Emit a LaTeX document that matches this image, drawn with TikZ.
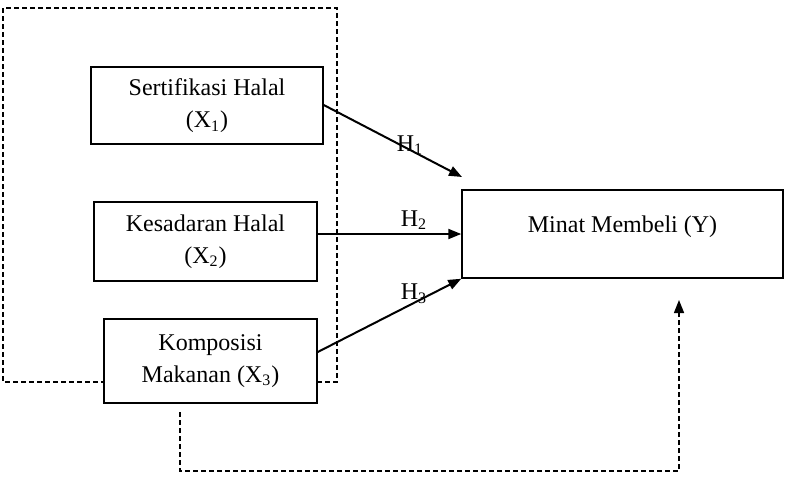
\documentclass[tikz,border=0pt]{standalone}
\usepackage{fontspec}
\setmainfont{Liberation Serif}
\usetikzlibrary{arrows.meta,positioning,calc}

\begin{document}
\begin{tikzpicture}
  [
  x=0.5pt, y=-0.5pt,
  font=\fontsize{12}{16}\selectfont,
  >={Triangle[length=6.5pt,width=5pt]},
  varbox/.style={rectangle, draw=black, line width=0.75pt, align=center, inner sep=0pt},
  hyparrow/.style={->, line width=1pt},
  dashline/.style={line width=0.75pt, dash pattern=on 2.5pt off 1.5pt},
  ]

\useasboundingbox (0,0) rectangle (786,488);

% independent variables, grouped
\draw[dashline] (3,8) rectangle (337,382);

\node[varbox, minimum width=116pt, minimum height=38.5pt, fill=white] (sh) at (207,105.5)
  {Sertifikasi Halal\\(X\textsubscript{1})};
\node[varbox, minimum width=111.5pt, minimum height=39.5pt, fill=white] (kh) at (205.5,241.5)
  {Kesadaran Halal\\(X\textsubscript{2})};
\node[varbox, minimum width=106.5pt, minimum height=42pt, fill=white] (km) at (210.5,361)
  {Komposisi\\Makanan (X\textsubscript{3})};

% dependent variable
\node[varbox, minimum width=160.5pt, minimum height=44pt] (mm) at (622.5,234) {};
\node (mmtext) at (622.5,227) {Minat Membeli (Y)};

% hypotheses
\coordinate (h1end) at (462,177);
\draw[hyparrow] ($(sh.east)+(0,-0.5)$) -- (h1end);
\draw[hyparrow] (kh.east |- mm.west) -- (mm.west);
\draw[hyparrow] ($(km.east)+(0,-9)$) -- (mm.south west);

\node (h1) at (410,145) {H\textsubscript{1}};
\node (h2) at (414,220) {H\textsubscript{2}};
\node (h3) at (414,294) {H\textsubscript{3}};

% simultaneous effect
\coordinate (simstart) at (180,412);
\coordinate (simend) at (679,300);
\draw[dashline, ->] (simstart) -- (180,471) -- (679,471) -- (simend);
\end{tikzpicture}
\end{document}
